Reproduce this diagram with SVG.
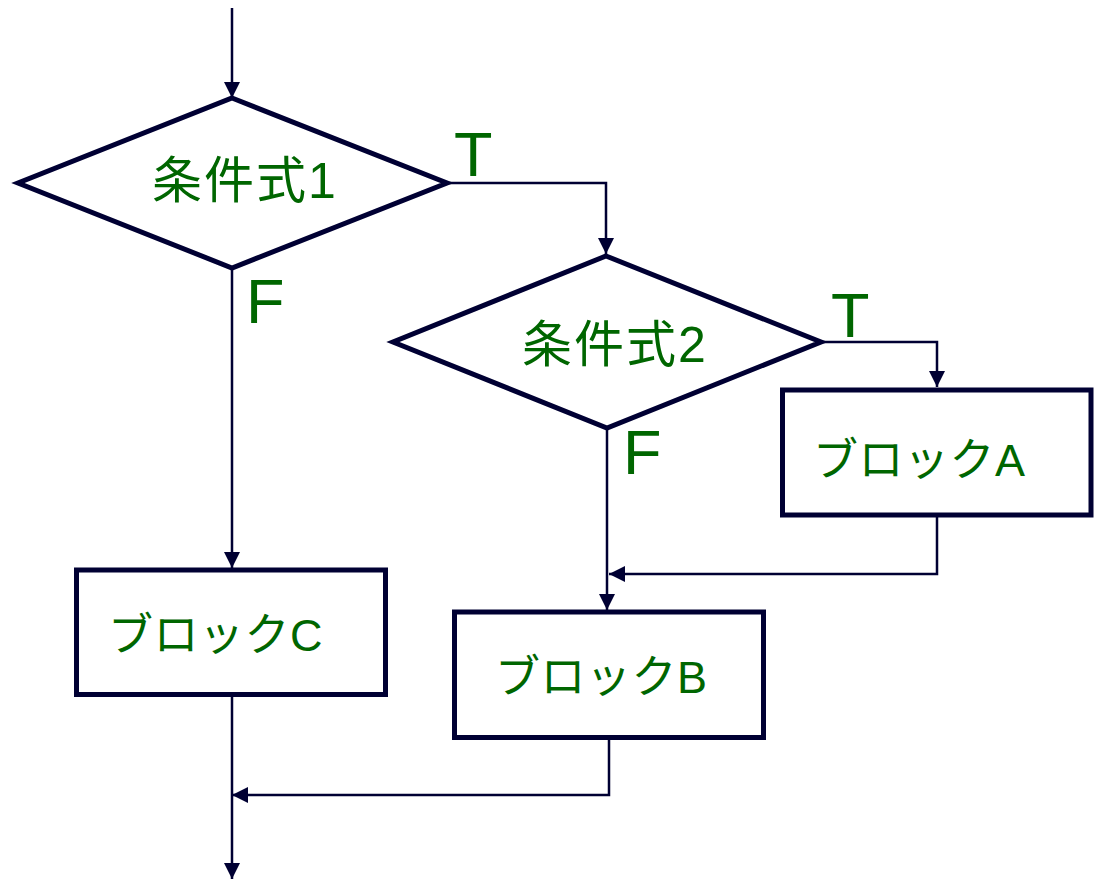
<svg xmlns="http://www.w3.org/2000/svg" width="1097" height="879" viewBox="0 0 1097 879">
  <defs>
    <style>
      .shape { fill: #ffffff; stroke: #000033; stroke-width: 5; stroke-linejoin: miter; }
      .conn { fill: none; stroke: #000033; stroke-width: 2.5; }
      .lbl { fill: #006600; font-family: "Liberation Sans", "Noto Sans CJK JP", sans-serif; }
      .cond { font-size: 50px; letter-spacing: 2px; }
      .blk { font-size: 45px; letter-spacing: 0.5px; }
      .tf { font-size: 63px; }
    </style>
    <marker id="arr" markerUnits="userSpaceOnUse" markerWidth="16" markerHeight="16" refX="16" refY="8" orient="auto">
      <path d="M0,0 L16,8 L0,16 z" fill="#000033"/>
    </marker>
  </defs>
  <rect width="1097" height="879" fill="#ffffff"/>

  <g id="connectors">
    <line class="conn" x1="232" y1="8" x2="232" y2="98" marker-end="url(#arr)"/>
    <polyline class="conn" points="447,183 606,183 606,254" marker-end="url(#arr)"/>
    <line class="conn" x1="232" y1="268" x2="232" y2="568" marker-end="url(#arr)"/>
    <polyline class="conn" points="822,342 937,342 937,387" marker-end="url(#arr)"/>
    <line class="conn" x1="607" y1="428" x2="607" y2="610" marker-end="url(#arr)"/>
    <polyline class="conn" points="937,515 937,574 609,574" marker-end="url(#arr)"/>
    <line class="conn" x1="232" y1="695" x2="232" y2="879" marker-end="url(#arr)"/>
    <polyline class="conn" points="609,738 609,795 232,795" marker-end="url(#arr)"/>
  </g>

  <g id="cond1">
    <polygon class="shape" points="232,98 447,183 232,268 18,183"/>
    <text class="lbl cond" x="152" y="198">条件式1</text>
  </g>
  <g id="cond2">
    <polygon class="shape" points="606,256 821,342 607,428 393,342"/>
    <text class="lbl cond" x="522" y="362">条件式2</text>
  </g>
  <g id="blockA">
    <rect class="shape" x="782.5" y="390" width="308.5" height="125"/>
    <text class="lbl blk" x="813" y="476">ブロックA</text>
  </g>
  <g id="blockB">
    <rect class="shape" x="454.5" y="612" width="309" height="125.5"/>
    <text class="lbl blk" x="495" y="693">ブロックB</text>
  </g>
  <g id="blockC">
    <rect class="shape" x="76.5" y="570" width="309" height="124.5"/>
    <text class="lbl blk" x="108" y="651">ブロックC</text>
  </g>

  <g id="labels">
    <text class="lbl tf" x="454" y="176">T</text>
    <text class="lbl tf" x="831" y="337">T</text>
    <text class="lbl tf" x="246" y="323">F</text>
    <text class="lbl tf" x="623" y="474">F</text>
  </g>
</svg>
